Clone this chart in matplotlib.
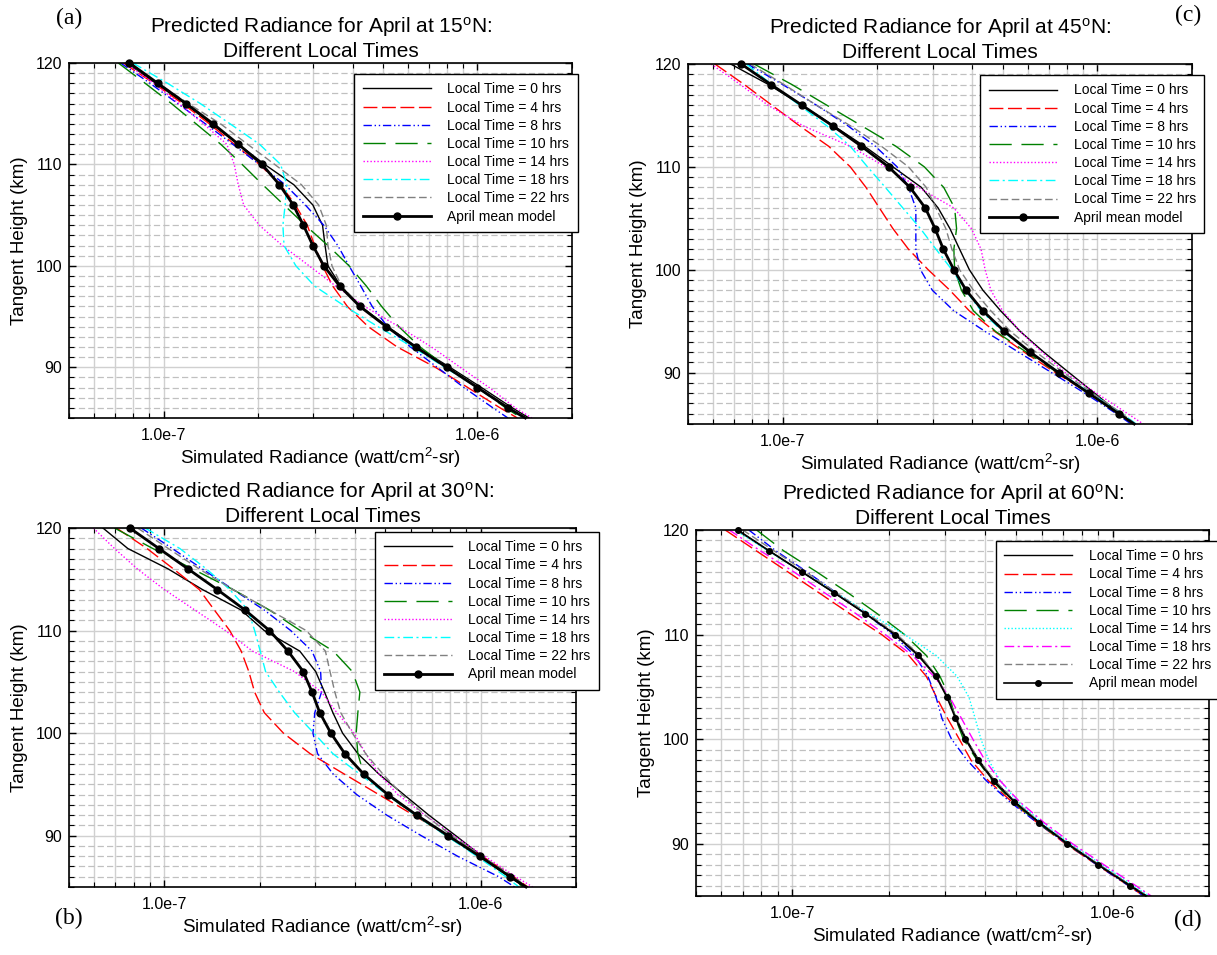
import numpy as np
import matplotlib
matplotlib.use("Agg")
import matplotlib.pyplot as plt
from matplotlib.ticker import LogLocator, FuncFormatter, MultipleLocator, NullFormatter

plt.rcParams['font.family'] = ['Liberation Sans', 'DejaVu Sans']
plt.rcParams['mathtext.fontset'] = 'custom'
plt.rcParams['mathtext.rm'] = 'Liberation Sans'
plt.rcParams['mathtext.it'] = 'Liberation Sans:italic'

# tangent heights (km), radiance in units of 1e-7 watt/cm2-sr
heights = [120, 118, 116, 114, 112, 110, 108, 106, 104, 102, 100, 98, 96, 94, 92, 90, 88, 86, 85]
local_times = [0, 4, 8, 10, 14, 18, 22]

# 15N, rows follow local_times
rad_15n = [
    [0.766, 0.945, 1.17, 1.42, 1.73, 2.10, 2.60, 2.99, 3.21, 3.27, 3.34, 3.67, 4.25, 5.17, 6.41, 8.17, 10.3, 12.9, 14.6],
    [0.745, 0.932, 1.15, 1.40, 1.68, 2.02, 2.36, 2.63, 2.87, 3.03, 3.21, 3.46, 3.85, 4.49, 5.55, 7.34, 9.32, 11.8, 13.4],
    [0.730, 0.906, 1.11, 1.36, 1.66, 2.02, 2.44, 2.83, 3.24, 3.59, 3.90, 4.25, 4.62, 5.17, 6.12, 7.44, 9.06, 11.2, 12.5],
    [0.718, 0.874, 1.06, 1.27, 1.52, 1.78, 2.07, 2.42, 2.83, 3.34, 3.90, 4.43, 4.95, 5.62, 6.56, 8.03, 10.0, 12.3, 13.8],
    [0.755, 0.932, 1.12, 1.34, 1.59, 1.68, 1.73, 1.80, 2.02, 2.39, 2.91, 3.54, 4.37, 5.62, 7.14, 8.81, 10.9, 13.2, 14.9],
    [0.799, 1.03, 1.31, 1.63, 2.02, 2.36, 2.47, 2.44, 2.40, 2.42, 2.64, 3.03, 3.79, 4.82, 6.21, 7.87, 10.0, 12.5, 14.0],
    [0.766, 0.959, 1.20, 1.52, 1.85, 2.26, 2.75, 3.12, 3.30, 3.34, 3.44, 3.69, 4.25, 5.17, 6.38, 8.03, 10.1, 12.7, 14.3],
]
mean_15n = [0.779, 0.959, 1.18, 1.44, 1.73, 2.06, 2.34, 2.59, 2.79, 2.99, 3.24, 3.64, 4.22, 5.13, 6.35, 7.98, 10.0, 12.5, 14.2]

rad_30n = [
    [0.640, 0.767, 1.03, 1.32, 1.75, 2.07, 2.68, 3.01, 3.21, 3.41, 3.66, 4.09, 4.77, 5.72, 6.86, 8.34, 10.1, 12.3, 13.8],
    [0.706, 0.882, 1.07, 1.29, 1.44, 1.61, 1.75, 1.85, 1.93, 2.07, 2.38, 2.89, 3.71, 4.77, 6.14, 7.89, 10.1, 12.7, 14.1],
    [0.846, 1.06, 1.32, 1.65, 2.07, 2.51, 2.93, 3.12, 3.14, 2.99, 2.95, 3.05, 3.42, 4.06, 5.05, 6.49, 8.45, 11.4, 12.8],
    [0.696, 0.920, 1.23, 1.65, 2.15, 2.69, 3.42, 3.93, 4.15, 4.09, 4.04, 4.09, 4.27, 5.05, 6.22, 7.78, 9.86, 12.3, 13.6],
    [0.597, 0.696, 0.823, 1.00, 1.25, 1.56, 1.90, 2.58, 3.14, 3.51, 3.98, 4.33, 4.77, 5.48, 6.67, 8.22, 10.3, 12.9, 14.6],
    [0.870, 1.12, 1.36, 1.61, 1.84, 1.93, 2.01, 2.09, 2.31, 2.58, 2.97, 3.41, 4.15, 5.05, 6.22, 7.78, 9.72, 12.0, 13.2],
    [0.823, 1.03, 1.29, 1.65, 2.15, 2.81, 3.23, 3.34, 3.46, 3.61, 3.93, 4.33, 4.91, 5.64, 6.67, 8.11, 10.1, 12.7, 14.0],
]
mean_30n = [0.778, 0.962, 1.19, 1.47, 1.80, 2.15, 2.46, 2.75, 2.93, 3.10, 3.36, 3.72, 4.27, 5.09, 6.28, 7.89, 9.92, 12.4, 13.9]

rad_45n = [
    [0.683, 0.902, 1.15, 1.45, 1.82, 2.24, 2.76, 3.12, 3.40, 3.65, 3.92, 4.33, 4.93, 5.69, 6.75, 8.13, 9.80, 11.8, 13.1],
    [0.609, 0.755, 0.923, 1.13, 1.40, 1.64, 1.84, 2.03, 2.24, 2.51, 2.90, 3.40, 3.92, 4.72, 5.85, 7.36, 9.39, 11.8, 13.0],
    [0.773, 1.00, 1.28, 1.61, 1.97, 2.31, 2.51, 2.65, 2.65, 2.65, 2.74, 2.99, 3.50, 4.40, 5.61, 7.15, 9.12, 11.5, 12.8],
    [0.811, 1.07, 1.38, 1.78, 2.29, 2.82, 3.25, 3.52, 3.57, 3.50, 3.52, 3.70, 4.04, 4.75, 5.94, 7.47, 9.39, 11.8, 13.1],
    [0.592, 0.734, 0.897, 1.16, 1.64, 2.12, 2.70, 3.50, 3.98, 4.27, 4.40, 4.59, 5.00, 5.69, 6.66, 7.91, 9.94, 12.5, 14.0],
    [0.766, 0.923, 1.13, 1.38, 1.64, 1.86, 2.12, 2.41, 2.74, 3.07, 3.45, 3.81, 4.27, 5.00, 6.11, 7.58, 9.53, 12.0, 13.3],
    [0.788, 1.01, 1.28, 1.64, 2.06, 2.51, 2.86, 3.07, 3.30, 3.45, 3.65, 4.04, 4.59, 5.30, 6.38, 7.80, 9.66, 12.0, 13.2],
]
mean_45n = [0.738, 0.918, 1.15, 1.44, 1.78, 2.17, 2.54, 2.84, 3.05, 3.24, 3.50, 3.83, 4.33, 5.07, 6.11, 7.53, 9.39, 11.7, 13.1]

rad_60n = [
    [0.671, 0.845, 1.07, 1.35, 1.69, 2.10, 2.49, 2.82, 3.05, 3.25, 3.49, 3.82, 4.28, 4.96, 5.93, 7.26, 9.04, 11.4, 12.8],
    [0.617, 0.772, 0.967, 1.21, 1.51, 1.90, 2.31, 2.62, 2.82, 3.05, 3.32, 3.61, 4.10, 4.85, 5.82, 7.12, 8.91, 11.2, 12.5],
    [0.731, 0.889, 1.11, 1.37, 1.69, 2.06, 2.41, 2.65, 2.81, 2.93, 3.14, 3.51, 4.04, 4.78, 5.82, 7.18, 8.91, 11.2, 12.5],
    [0.773, 0.940, 1.19, 1.49, 1.84, 2.24, 2.62, 2.89, 3.10, 3.23, 3.42, 3.77, 4.22, 4.89, 5.85, 7.18, 8.99, 11.3, 12.6],
    [0.662, 0.840, 1.07, 1.37, 1.74, 2.24, 2.81, 3.27, 3.56, 3.72, 3.88, 4.10, 4.46, 5.06, 6.02, 7.39, 9.25, 11.6, 13.0],
    [0.635, 0.795, 1.01, 1.26, 1.58, 1.95, 2.37, 2.77, 3.10, 3.37, 3.66, 3.99, 4.46, 5.13, 6.12, 7.49, 9.38, 11.8, 13.2],
    [0.700, 0.877, 1.10, 1.37, 1.72, 2.12, 2.51, 2.82, 3.05, 3.25, 3.49, 3.82, 4.30, 4.99, 5.95, 7.29, 9.07, 11.4, 12.8],
]
mean_60n = [0.675, 0.847, 1.07, 1.35, 1.69, 2.09, 2.47, 2.81, 3.04, 3.23, 3.47, 3.79, 4.25, 4.93, 5.90, 7.22, 8.99, 11.3, 12.7]

# line styles, one per local time
styles = [
    dict(color='black', ls='-', lw=1.0),
    dict(color='#ff0000', ls=(0, (10, 3.3)), lw=1.0),
    dict(color='#0000ff', ls=(0, (6, 2, 1, 2, 1, 2)), lw=1.0),
    dict(color='#008000', ls=(0, (16, 7)), lw=1.0),
    dict(color='#ff00ff', ls=(0, (1, 1.5)), lw=1.0),
    dict(color='#00ffff', ls=(0, (7, 2.5, 1.5, 2.5)), lw=1.0),
    dict(color='#808080', ls=(0, (5.5, 2.5)), lw=1.0),
]
# panel (d) swaps the 14 and 18 hrs styles
styles_d = list(styles)
styles_d[4] = dict(color='#00ffff', ls=(0, (1, 1.5)), lw=1.0)
styles_d[5] = dict(color='#ff00ff', ls=(0, (7, 2.5, 1.5, 2.5)), lw=1.0)


def draw_panel(ax, lat, rads, mean, sty, mean_lw, mean_ms, leg_anchor):
    h = np.array(heights)
    for i, lt in enumerate(local_times):
        ax.plot(np.array(rads[i]) * 1e-7, h, label="Local Time = %d hrs" % lt, **sty[i])
    ax.plot(np.array(mean) * 1e-7, h, color='black', lw=mean_lw, marker='o', ms=mean_ms,
            markevery=list(range(len(heights) - 1)), clip_on=False, label="April mean model")

    ax.set_xscale('log')
    ax.set_xlim(5e-8, 2e-6)
    ax.set_ylim(85, 120)
    ax.xaxis.set_major_locator(LogLocator(base=10, subs=[1.0]))
    ax.xaxis.set_minor_locator(LogLocator(base=10, subs=np.arange(2, 10)))
    ax.xaxis.set_major_formatter(FuncFormatter(lambda v, p: "1.0e%d" % round(np.log10(v))))
    ax.xaxis.set_minor_formatter(NullFormatter())
    ax.yaxis.set_major_locator(MultipleLocator(10))
    ax.yaxis.set_minor_locator(MultipleLocator(1))

    ax.set_axisbelow(True)
    ax.grid(which='both', axis='x', color='#d0d0d0', lw=1.0, ls='-')
    ax.grid(which='major', axis='y', color='#d0d0d0', lw=1.0, ls='-')
    ax.grid(which='minor', axis='y', color='#c0c0c0', lw=0.9, ls=(0, (5, 2.5)))

    ax.tick_params(which='both', direction='in', top=True, right=True, labelsize=11.5)
    ax.tick_params(which='major', length=5, width=1)
    ax.tick_params(which='minor', length=3.5, width=0.8)
    ax.tick_params(axis='x', pad=7)
    ax.tick_params(axis='y', pad=5)
    for s in ax.spines.values():
        s.set_linewidth(1.2)

    ax.set_title("Predicted Radiance for April at %d$^{\\rm o}$N:\nDifferent Local Times" % lat,
                 fontsize=15, pad=4)
    ax.set_xlabel("Simulated Radiance (watt/cm$^{\\rm 2}$-sr)", fontsize=13.5, labelpad=2)
    ax.set_ylabel("Tangent Height (km)", fontsize=13.5, labelpad=5)

    leg = ax.legend(loc='upper right', bbox_to_anchor=leg_anchor, borderaxespad=0,
                    fontsize=10, fancybox=False, framealpha=1, edgecolor='black',
                    handlelength=4.9, handletextpad=1.2, labelspacing=0.3, borderpad=0.6)
    leg.get_frame().set_linewidth(1.0)


fig = plt.figure(figsize=(12.17, 9.55), dpi=100)
W, H = 1217.0, 955.0


def add_axes(x0, x1, y0, y1):
    return fig.add_axes([x0 / W, 1 - y1 / H, (x1 - x0) / W, (y1 - y0) / H])


ax_a = add_axes(69, 572, 63, 418)
ax_b = add_axes(69, 576, 528, 887)
ax_c = add_axes(688, 1192, 64, 424)
ax_d = add_axes(696, 1209, 530, 896)

draw_panel(ax_a, 15, rad_15n, mean_15n, styles, 2.0, 5, (1.012, 0.969))
draw_panel(ax_b, 30, rad_30n, mean_30n, styles, 2.0, 5, (1.045, 0.989))
draw_panel(ax_c, 45, rad_45n, mean_45n, styles, 2.0, 5, (1.024, 0.969))
draw_panel(ax_d, 60, rad_60n, mean_60n, styles_d, 1.2, 4, (1.02, 0.970))

for txt, x, y in [("(a)", 69, 18), ("(c)", 1188, 15), ("(b)", 69, 918), ("(d)", 1188, 920)]:
    fig.text(x / W, 1 - y / H, txt, ha='center', va='center', fontsize=17,
             family=['Liberation Serif', 'DejaVu Serif'])

fig.savefig("out.png", dpi=100)
